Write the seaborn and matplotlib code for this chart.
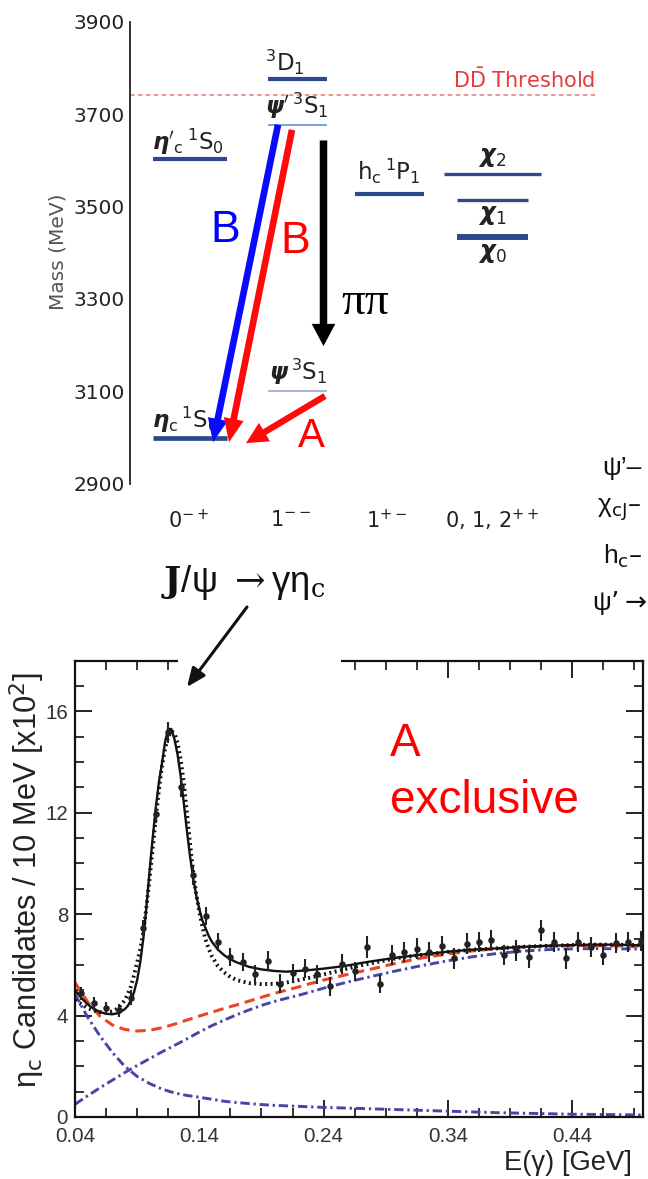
import matplotlib
matplotlib.use("Agg")
import matplotlib.pyplot as plt
import matplotlib.font_manager as fm
from matplotlib.patches import FancyArrowPatch, Rectangle
from matplotlib.ticker import MultipleLocator
import seaborn as sns

# ---------------- level scheme (MeV) ----------------
level_mass = [2999, 3603, 3776, 3677, 3101, 3528, 3571, 3515, 3435]
level_col = [0, 0, 1, 1, 1, 2, 3, 3, 3]
level_labels = [r"$\boldsymbol{\eta}_{\mathrm{c}}\,{}^{1}\mathrm{S}_{0}$",
                r"${\boldsymbol{\eta}}'_{\mathrm{c}}\,{}^{1}\mathrm{S}_{0}$",
                r"${}^{3}\mathrm{D}_{1}$",
                r"${\boldsymbol{\psi}}'\,{}^{3}\mathrm{S}_{1}$",
                r"$\boldsymbol{\psi}\,{}^{3}\mathrm{S}_{1}$",
                r"$\mathrm{h}_{\mathrm{c}}\,{}^{1}\mathrm{P}_{1}$",
                r"$\boldsymbol{\chi}_{2}$",
                r"$\boldsymbol{\chi}_{1}$",
                r"$\boldsymbol{\chi}_{0}$"]
dd_threshold = 3742
mass_ticks = [2900, 3100, 3300, 3500, 3700, 3900]
jpc_labels = [r"$0^{-+}$", r"$1^{--}$", r"$1^{+-}$", r"0, 1, 2$^{++}$"]

# ---------------- eta_c photon spectrum ----------------
e_gamma = [0.045, 0.055, 0.065, 0.075, 0.085, 0.095, 0.105, 0.115, 0.125, 0.135,
           0.145, 0.155, 0.165, 0.175, 0.185, 0.195, 0.205, 0.215, 0.225, 0.235,
           0.245, 0.255, 0.265, 0.275, 0.285, 0.295, 0.305, 0.315, 0.325, 0.335,
           0.345, 0.355, 0.365, 0.375, 0.385, 0.395, 0.405, 0.415, 0.425, 0.435,
           0.445, 0.455, 0.465, 0.475, 0.485, 0.495]
counts = [4.87, 4.48, 4.28, 4.21, 4.71, 7.45, 11.96, 15.17, 13.0, 9.53,
          7.92, 6.9, 6.31, 6.11, 5.63, 6.15, 5.26, 5.66, 5.85, 5.62,
          5.16, 6.02, 5.75, 6.7, 5.24, 6.38, 6.51, 6.64, 6.51, 6.74,
          6.25, 6.84, 6.9, 6.97, 6.38, 6.57, 6.29, 7.36, 6.9, 6.25,
          6.9, 6.7, 6.38, 6.86, 6.9, 6.94]
errors = [0.27, 0.27, 0.26, 0.26, 0.28, 0.33, 0.38, 0.42, 0.4, 0.37,
          0.35, 0.35, 0.36, 0.37, 0.37, 0.4, 0.36, 0.37, 0.38, 0.38,
          0.37, 0.39, 0.38, 0.42, 0.36, 0.4, 0.4, 0.4, 0.4, 0.4,
          0.4, 0.4, 0.4, 0.4, 0.4, 0.4, 0.4, 0.42, 0.4, 0.4,
          0.4, 0.4, 0.4, 0.4, 0.4, 0.4]

fit_x = [0.040, 0.045, 0.050, 0.055, 0.060, 0.065, 0.070, 0.075, 0.080, 0.0825,
         0.085, 0.0875, 0.090, 0.0925, 0.095, 0.0975, 0.100, 0.1025, 0.105, 0.1075,
         0.110, 0.1125, 0.115, 0.1175, 0.120, 0.1225, 0.125, 0.1275, 0.130, 0.1325,
         0.135, 0.1375, 0.140, 0.1425, 0.145, 0.1475, 0.150, 0.155, 0.160, 0.165,
         0.170, 0.180, 0.190, 0.200, 0.210, 0.220, 0.230, 0.240, 0.250, 0.260,
         0.270, 0.280, 0.290, 0.300, 0.320, 0.340, 0.360, 0.380, 0.400, 0.420,
         0.440, 0.460, 0.480, 0.497]
fit_total = [5.0, 4.7, 4.45, 4.27, 4.14, 4.07, 4.05, 4.1, 4.25, 4.38,
             4.6, 4.92, 5.4, 6.1, 7.05, 8.3, 9.7, 11.0, 12.2, 13.2,
             13.95, 14.8, 15.3, 15.3, 14.9, 14.3, 13.45, 12.4, 11.3, 10.3,
             9.45, 8.75, 8.2, 7.75, 7.45, 7.15, 6.92, 6.6, 6.38, 6.22,
             6.1, 5.92, 5.82, 5.76, 5.73, 5.76, 5.8, 5.85, 5.91, 5.98,
             6.07, 6.15, 6.22, 6.29, 6.41, 6.52, 6.6, 6.65, 6.71, 6.75,
             6.78, 6.8, 6.79, 6.77]
fit_alt = [4.6, 4.45, 4.3, 4.2, 4.14, 4.12, 4.16, 4.3, 4.6, 4.85,
           5.15, 5.6, 6.1, 6.6, 7.3, 8.3, 9.4, 10.6, 11.8, 12.9,
           13.85, 14.55, 15.0, 15.2, 15.15, 14.75, 14.1, 13.2, 12.0, 10.8,
           9.7, 8.8, 8.1, 7.5, 7.0, 6.65, 6.35, 5.95, 5.7, 5.52,
           5.4, 5.28, 5.24, 5.25, 5.3, 5.4, 5.5, 5.62, 5.74, 5.86,
           5.98, 6.08, 6.18, 6.27, 6.4, 6.51, 6.6, 6.65, 6.71, 6.75,
           6.78, 6.8, 6.79, 6.77]

bkg_x = [0.04, 0.05, 0.06, 0.07, 0.08, 0.09, 0.10, 0.11, 0.12, 0.13,
         0.14, 0.15, 0.16, 0.17, 0.18, 0.19, 0.20, 0.21, 0.22, 0.23,
         0.24, 0.26, 0.28, 0.30, 0.32, 0.34, 0.36, 0.38, 0.40, 0.42,
         0.44, 0.46, 0.48, 0.497]
bkg_total = [5.3, 4.55, 3.98, 3.63, 3.45, 3.39, 3.42, 3.52, 3.66, 3.82,
             3.98, 4.13, 4.28, 4.42, 4.57, 4.72, 4.87, 5.0, 5.13, 5.27,
             5.4, 5.63, 5.85, 6.08, 6.28, 6.43, 6.55, 6.64, 6.7, 6.74,
             6.76, 6.76, 6.74, 6.7]
bkg_rising = [0.5, 0.83, 1.15, 1.45, 1.75, 2.03, 2.3, 2.57, 2.82, 3.08,
              3.35, 3.6, 3.82, 4.03, 4.22, 4.4, 4.55, 4.68, 4.8, 4.94,
              5.08, 5.33, 5.56, 5.78, 5.98, 6.16, 6.32, 6.45, 6.54, 6.6,
              6.63, 6.64, 6.63, 6.62]
bkg_falling = [4.85, 3.95, 3.2, 2.55, 2.0, 1.6, 1.32, 1.1, 0.95, 0.85,
               0.78, 0.7, 0.62, 0.57, 0.53, 0.49, 0.46, 0.44, 0.42, 0.4,
               0.38, 0.35, 0.32, 0.29, 0.26, 0.23, 0.2, 0.17, 0.15, 0.13,
               0.11, 0.1, 0.09, 0.08]

x_major = [0.04, 0.14, 0.24, 0.34, 0.44]
x_minor = [0.065, 0.09, 0.115, 0.165, 0.19, 0.215, 0.265, 0.29, 0.315,
           0.365, 0.39, 0.415, 0.465, 0.49]
y_major = [0, 4, 8, 12, 16]

W, H = 648, 1179

sns.set_theme(style="white")
plt.rcParams["font.family"] = ["DejaVu Sans"]
plt.rcParams["mathtext.fontset"] = "dejavusans"

names = {f.name for f in fm.fontManager.ttflist}
HAS_NARROW = "Liberation Sans Narrow" in names
NARROW = ["Liberation Sans Narrow", "DejaVu Sans"] if HAS_NARROW else ["Liberation Sans", "DejaVu Sans"]
NS = 1.0 if HAS_NARROW else 0.82
ARIAL = ["Liberation Sans", "DejaVu Sans"]


def fx(px):
    return px / W


def fy(py):
    return 1 - py / H


fig = plt.figure(figsize=(W / 100, H / 100), dpi=100)
fig.patch.set_facecolor("white")

# ================= top: charmonium levels =================
ax1 = fig.add_axes([fx(130), fy(483.8), (W - 130) / W, (483.8 - 21.7) / H])
ax1.set_xlim(-0.6, 4.58)
ax1.set_ylim(2900, 3900)
ax1.patch.set_alpha(0)
for s in ["top", "right", "bottom"]:
    ax1.spines[s].set_visible(False)
ax1.spines["left"].set_linewidth(1.3)
ax1.spines["left"].set_color("#222222")
ax1.set_xticks([])
ax1.set_yticks(mass_ticks)
ax1.tick_params(axis="y", direction="in", length=17.5, width=1.3, pad=4,
                labelsize=14.5, colors="#222222")

col_x = [0.0, 1.07, 1.995, 3.025]
dark = "#2b4a8b"
half = [0.37, 0.37, 0.295, 0.295, 0.295, 0.345, 0.485, 0.355, 0.355]
lws = [3.4, 3.0, 3.0, 1.1, 1.1, 3.0, 2.4, 2.4, 4.3]
lcol = [dark, dark, dark, "#5289cf", "#8c9fca", dark, dark, dark, dark]
for m, c, h, lw, colr in zip(level_mass, level_col, half, lws, lcol):
    ax1.hlines(m, col_x[c] - h, col_x[c] + h, colors=colr, linewidth=lw)

# label placement (offset points from left end of level)
lab_off = [(-1, 7.2), (-1, 6.5), (-2, 6.0), (-2, 8.0), (1, 7.7), (1.5, 10.0)]
for i, (dx, dy) in enumerate(lab_off):
    c = level_col[i]
    ax1.annotate(level_labels[i], xy=(col_x[c] - half[i], level_mass[i]),
                 xytext=(dx, dy), textcoords="offset points",
                 ha="left", va="baseline", fontsize=16.5, color="#222222")
for i, va, dy in [(6, "bottom", 3.6), (7, "top", -2.4), (8, "top", -3.2)]:
    c = level_col[i]
    ax1.annotate(level_labels[i], xy=(col_x[c], level_mass[i]),
                 xytext=(0, dy), textcoords="offset points",
                 ha="center", va=va, fontsize=17.5, color="#222222")

jpc_x = [-0.01, 1.01, 1.97, 3.02]
for x, lab in zip(jpc_x, jpc_labels):
    ax1.text(x, 2821, lab, ha="center", va="center", fontsize=15, color="#222222")

ax1.axhline(dd_threshold, xmin=0, xmax=(595 - 130) / (W - 130), color="#ec7676",
            linewidth=1.1, linestyle=(0, (3, 2.2)))
ax1.annotate(r"D$\bar{\mathrm{D}}$ Threshold", xy=(4.05, dd_threshold), xytext=(0, 4.8),
             textcoords="offset points", ha="right", va="baseline",
             fontsize=15, color="#e83a3a")

fig.text(fx(58), fy(252), "Mass (MeV)", rotation=90, ha="center", va="center",
         fontsize=14.5, color="#555555")


def thick_arrow(ax, start, end, color, tail, hw, hl):
    ax.add_patch(FancyArrowPatch(start, end,
                                 arrowstyle=f"simple,head_length={hl},head_width={hw},tail_width={tail}",
                                 mutation_scale=1, color=color, lw=0,
                                 shrinkA=0, shrinkB=0, zorder=5))


psi2s, jpsi, etac = level_mass[3], level_mass[4], level_mass[0]
thick_arrow(ax1, (0.88, psi2s), (0.23, etac - 9), "#0a0aff", 4.8, 14.5, 17)
thick_arrow(ax1, (1.02, psi2s - 11), (0.39, etac - 9), "#ff0a0a", 4.8, 14.5, 17)
thick_arrow(ax1, (1.335, psi2s - 34), (1.335, 3198), "black", 5.4, 17, 16)
thick_arrow(ax1, (1.35, jpsi - 11), (0.56, etac - 11), "#ff0a0a", 4.6, 15.5, 15.5)

fig.text(fx(225), fy(230), "B", color="#0000ff", fontsize=32, family=ARIAL,
         ha="center", va="center")
fig.text(fx(295.5), fy(242), "B", color="#ff0000", fontsize=32, family=ARIAL,
         ha="center", va="center")
fig.text(fx(311), fy(436), "A", color="#ff0000", fontsize=29, family=ARIAL,
         ha="center", va="center")
fig.text(fx(365), fy(303), "ππ", color="black", fontsize=34,
         family=["Liberation Serif", "DejaVu Serif"], ha="center", va="center")

# text from a neighbouring panel, running into the right edge in the source
for txt, x, y in [("ψ’–", 602, 468), (r"χ$_{\mathrm{cJ}}$–", 597, 510),
                  (r"h$_{\mathrm{c}}$–", 603, 556), (r"ψ’$\rightarrow$", 592, 603)]:
    fig.text(fx(x), fy(y), txt, family=NARROW, fontsize=23 * NS, color="#111111",
             ha="left", va="center")

# ================= bottom: photon spectrum =================
ax2 = fig.add_axes([fx(75), fy(1117), 568 / W, (1117 - 660.5) / H])
sns.lineplot(x=bkg_x, y=bkg_falling, ax=ax2, color="#4646a8", linewidth=2.1,
             linestyle=(0, (3.2, 1.3, 0.8, 1.3)), estimator=None, sort=False)
sns.lineplot(x=bkg_x, y=bkg_rising, ax=ax2, color="#4646a8", linewidth=2.1,
             linestyle=(0, (3.2, 1.3, 0.8, 1.3)), estimator=None, sort=False)
sns.lineplot(x=bkg_x, y=bkg_total, ax=ax2, color="#ee4422", linewidth=2.2,
             linestyle=(0, (3.4, 1.9)), estimator=None, sort=False)
sns.lineplot(x=fit_x, y=fit_alt, ax=ax2, color="#111111", linewidth=2.8,
             linestyle=(0, (0.5, 0.9)), estimator=None, sort=False)
sns.lineplot(x=fit_x, y=fit_total, ax=ax2, color="#111111", linewidth=1.7,
             estimator=None, sort=False)
ax2.errorbar(e_gamma, counts, yerr=errors, fmt="none", ecolor="#222222",
             elinewidth=1.5, capsize=0, zorder=4)
sns.scatterplot(x=e_gamma, y=counts, ax=ax2, color="#222222", s=22,
                linewidth=0, zorder=5)

ax2.set_xlim(0.04, 0.497)
ax2.set_ylim(0, 18)
ax2.set_xticks(x_major)
ax2.set_xticklabels([f"{v:.2f}" for v in x_major])
ax2.set_xticks(x_minor, minor=True)
ax2.set_yticks(y_major)
ax2.yaxis.set_minor_locator(MultipleLocator(1))
ax2.set_xlabel("")
ax2.set_ylabel("")
for s in ax2.spines.values():
    s.set_linewidth(1.6)
    s.set_color("#111111")
ax2.tick_params(which="both", direction="in", top=True, right=True,
                bottom=True, left=True, color="#111111")
ax2.tick_params(which="major", length=12, width=1.3)
ax2.tick_params(which="minor", length=6.5, width=1.2)
ax2.tick_params(axis="x", which="major", pad=7)
ax2.tick_params(axis="y", which="major", pad=5)
for lab in ax2.get_xticklabels() + ax2.get_yticklabels():
    lab.set_family(NARROW)
    lab.set_fontsize(18 * NS)
    lab.set_color("#333333")

# gap in the upper frame under the title
fig.add_artist(Rectangle((fx(178), fy(681)), (341 - 178) / W, 33 / H,
                         transform=fig.transFigure, facecolor="white",
                         edgecolor="none", zorder=5))

fig.text(fx(27), fy(880), r"η$_{\mathrm{c}}$ Candidates / 10 MeV [x10$^{2}$]",
         rotation=90, ha="center", va="center", family=NARROW,
         fontsize=27 * NS, color="#222222")
fig.text(fx(632), fy(1163), "E(γ) [GeV]", ha="right", va="center", family=NARROW,
         fontsize=24 * NS, color="#222222")

fig.text(fx(243), fy(583), r"$\mathbf{J}$/ψ $\rightarrow$γη$_{\mathrm{c}}$", ha="center",
         va="center", family=NARROW, fontsize=32 * NS, color="#111111",
         math_fontfamily="dejavuserif")
fig.add_artist(FancyArrowPatch((fx(247), fy(607)), (fx(187), fy(687)),
                               transform=fig.transFigure,
                               arrowstyle="-|>,head_length=0.75,head_width=0.32",
                               mutation_scale=15, color="#111111", lw=2.2,
                               shrinkA=0, shrinkB=0, zorder=6))

fig.text(fx(390), fy(756), "A", color="#ff0000", fontsize=33, family=ARIAL,
         ha="left", va="baseline")
fig.text(fx(390), fy(813), "exclusive", color="#ff0000", fontsize=33, family=ARIAL,
         ha="left", va="baseline")

fig.savefig("out.png", dpi=100, facecolor="white")
